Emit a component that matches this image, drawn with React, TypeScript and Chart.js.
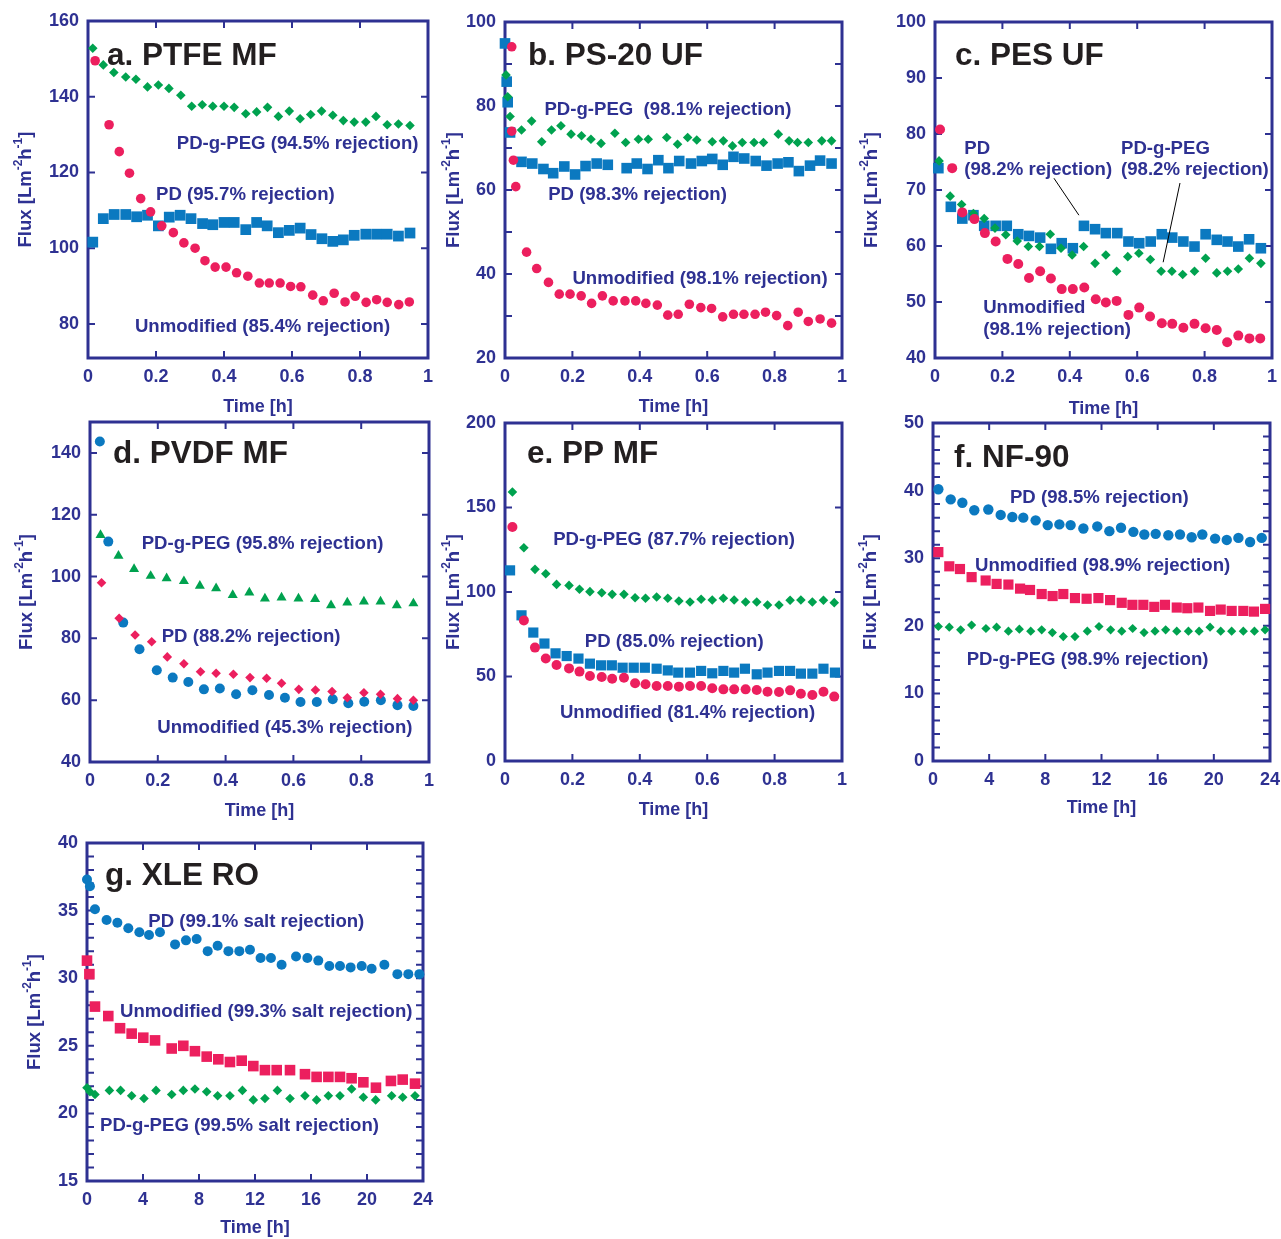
import React, { useEffect, useRef } from "react";
import { Chart, registerables } from "chart.js";
Chart.register(...registerables);

const NAVY = "#2e3192";
const INK = "#231f20";
const GREEN = "#00a24f";
const RED = "#ec1f5e";
const BLUE = "#0b79c0";
const FONT = "'Liberation Sans', Arial, Helvetica, sans-serif";

// ---------- tick values ----------
const fracTicks = [0, 0.2, 0.4, 0.6, 0.8, 1];
const hourTicks = [0, 4, 8, 12, 16, 20, 24];
const aYTicks = [80, 100, 120, 140, 160];
const bYTicks = [20, 40, 60, 80, 100];
const bYMinor = [30, 50, 70, 90];
const cYTicks = [40, 50, 60, 70, 80, 90, 100];
const dYTicks = [40, 60, 80, 100, 120, 140];
const eYTicks = [0, 50, 100, 150, 200];
const fYTicks = [0, 10, 20, 30, 40, 50];
const fYMinor = [2, 4, 6, 8, 12, 14, 16, 18, 22, 24, 26, 28, 32, 34, 36, 38, 42, 44, 46, 48];
const gYTicks = [15, 20, 25, 30, 35, 40];
const gYMinor = [16, 17, 18, 19, 21, 22, 23, 24, 26, 27, 28, 29, 31, 32, 33, 34, 36, 37, 38, 39];

// ---------- a. PTFE MF ----------
const aPeg = [[0.014,152.8],[0.045,148.4],[0.076,146.4],[0.111,145.2],[0.141,144.6],[0.175,142.6],[0.207,143.1],[0.238,142.2],[0.273,140.4],[0.305,137.5],[0.336,137.9],[0.367,137.5],[0.4,137.5],[0.43,137.2],[0.464,135.5],[0.496,136.0],[0.528,137.2],[0.56,134.8],[0.592,136.2],[0.624,134.2],[0.655,135.3],[0.687,136.2],[0.72,135.1],[0.751,133.7],[0.783,133.3],[0.817,133.3],[0.847,134.8],[0.88,132.6],[0.913,132.8],[0.947,132.4]];
const aUnmod = [[0.021,149.5],[0.062,132.6],[0.092,125.5],[0.122,119.8],[0.155,113.1],[0.184,109.6],[0.217,105.9],[0.251,104.1],[0.282,101.4],[0.315,100.0],[0.344,96.7],[0.374,95.0],[0.406,95.0],[0.437,93.5],[0.47,92.6],[0.504,90.8],[0.533,90.8],[0.565,90.8],[0.596,89.9],[0.626,89.8],[0.661,87.6],[0.692,86.1],[0.724,88.1],[0.756,85.8],[0.786,87.3],[0.818,85.7],[0.849,86.4],[0.88,85.7],[0.914,85.1],[0.945,85.8]];
const aPd = [[0.014,101.6],[0.045,107.8],[0.077,108.9],[0.111,108.9],[0.143,108.3],[0.175,108.7],[0.207,105.9],[0.239,108.2],[0.271,108.7],[0.303,107.8],[0.337,106.5],[0.367,106.2],[0.4,106.8],[0.43,106.8],[0.464,104.9],[0.496,106.8],[0.527,105.9],[0.56,104.1],[0.592,104.7],[0.624,105.3],[0.656,103.6],[0.688,102.5],[0.72,101.8],[0.751,102.2],[0.783,103.4],[0.817,103.7],[0.849,103.7],[0.88,103.7],[0.913,103.2],[0.947,104.0]];

// ---------- b. PS-20 UF ----------
const bPd = [[0.0,94.9],[0.005,85.8],[0.008,80.9],[0.015,73.7],[0.049,66.7],[0.081,66.3],[0.114,65.0],[0.143,64.0],[0.176,65.6],[0.208,63.7],[0.239,65.7],[0.272,66.3],[0.305,66.0],[0.361,65.2],[0.391,66.3],[0.423,65.0],[0.455,67.1],[0.485,65.2],[0.517,66.9],[0.552,66.3],[0.584,66.9],[0.615,67.4],[0.646,66.0],[0.678,67.9],[0.71,67.5],[0.744,66.9],[0.776,65.8],[0.809,66.3],[0.841,66.6],[0.872,64.5],[0.905,65.8],[0.935,67.0],[0.969,66.3]];
const bPeg = [[0.003,87.4],[0.008,82.2],[0.015,77.5],[0.049,74.3],[0.079,76.4],[0.109,71.5],[0.138,74.3],[0.166,75.3],[0.196,73.3],[0.227,72.9],[0.255,72.1],[0.285,71.1],[0.326,73.5],[0.358,71.3],[0.396,72.1],[0.425,72.1],[0.48,72.5],[0.512,70.9],[0.542,72.5],[0.569,71.9],[0.615,71.5],[0.648,71.7],[0.675,70.5],[0.704,71.3],[0.739,71.3],[0.767,71.3],[0.811,73.3],[0.843,71.7],[0.868,71.3],[0.9,71.3],[0.94,71.7],[0.969,71.7]];
const bUnmod = [[0.02,94.1],[0.02,74.0],[0.025,67.1],[0.032,60.8],[0.064,45.2],[0.094,41.3],[0.129,38.0],[0.161,35.2],[0.193,35.2],[0.226,34.8],[0.257,33.0],[0.289,34.8],[0.321,33.6],[0.356,33.6],[0.388,33.6],[0.418,33.0],[0.452,32.6],[0.483,30.2],[0.514,30.4],[0.547,32.8],[0.581,32.0],[0.613,31.8],[0.646,29.8],[0.678,30.4],[0.709,30.4],[0.742,30.4],[0.773,30.9],[0.806,30.1],[0.839,27.7],[0.87,30.9],[0.9,28.7],[0.935,29.3],[0.969,28.3]];

// ---------- c. PES UF ----------
const cPd = [[0.01,73.9],[0.047,67.0],[0.081,64.9],[0.114,65.5],[0.146,63.6],[0.18,63.6],[0.213,63.6],[0.247,62.1],[0.279,61.8],[0.312,61.5],[0.344,59.5],[0.376,60.5],[0.409,59.6],[0.442,63.6],[0.475,63.0],[0.507,62.3],[0.541,62.3],[0.574,60.8],[0.606,60.5],[0.64,60.8],[0.673,62.1],[0.704,61.5],[0.737,60.8],[0.77,59.9],[0.803,62.1],[0.836,61.1],[0.868,60.8],[0.9,59.9],[0.932,61.2],[0.967,59.6]];
const cPeg = [[0.012,75.2],[0.045,68.9],[0.079,67.4],[0.114,65.8],[0.146,64.9],[0.178,63.2],[0.21,62.0],[0.244,60.9],[0.277,59.9],[0.31,59.9],[0.342,62.1],[0.374,59.6],[0.407,58.4],[0.441,59.9],[0.475,56.9],[0.507,58.4],[0.539,55.5],[0.572,58.1],[0.605,58.7],[0.639,57.6],[0.671,55.5],[0.703,55.5],[0.735,54.9],[0.77,55.5],[0.803,57.8],[0.836,55.2],[0.868,55.5],[0.9,55.9],[0.933,57.8],[0.967,56.9]];
const cUnmod = [[0.015,80.8],[0.051,73.9],[0.081,66.0],[0.117,64.8],[0.148,62.3],[0.18,60.8],[0.215,57.7],[0.247,56.8],[0.279,54.3],[0.312,55.5],[0.344,54.2],[0.376,52.3],[0.409,52.3],[0.443,52.6],[0.477,50.5],[0.507,49.9],[0.539,50.2],[0.574,47.7],[0.606,49.0],[0.638,47.4],[0.673,46.2],[0.704,46.1],[0.737,45.4],[0.77,46.1],[0.803,45.3],[0.836,45.0],[0.867,42.8],[0.9,44.0],[0.933,43.5],[0.965,43.5]];

// ---------- d. PVDF MF ----------
const dUnmod = [[0.029,143.7],[0.054,111.3],[0.098,85.1],[0.146,76.5],[0.197,69.7],[0.244,67.3],[0.29,65.9],[0.336,63.5],[0.383,63.8],[0.431,61.9],[0.479,63.2],[0.528,61.7],[0.575,60.8],[0.621,59.4],[0.669,59.4],[0.716,60.3],[0.762,59.0],[0.809,59.5],[0.858,60.0],[0.907,58.4],[0.954,58.1]];
const dPeg = [[0.031,113.4],[0.084,106.7],[0.13,102.4],[0.179,100.2],[0.226,99.4],[0.277,98.5],[0.324,97.0],[0.372,96.2],[0.421,94.0],[0.47,94.8],[0.516,92.9],[0.565,93.2],[0.615,92.9],[0.664,92.7],[0.711,90.7],[0.759,91.6],[0.808,91.9],[0.857,91.9],[0.905,90.7],[0.954,91.3]];
const dPd = [[0.034,98.0],[0.086,86.5],[0.133,81.1],[0.182,78.9],[0.228,74.0],[0.277,71.8],[0.326,69.2],[0.372,68.7],[0.423,68.4],[0.472,67.3],[0.521,67.1],[0.565,65.5],[0.616,63.5],[0.665,63.3],[0.714,62.8],[0.759,60.8],[0.808,62.4],[0.857,61.9],[0.907,60.5],[0.954,60.0]];

// ---------- e. PP MF ----------
const ePeg = [[0.022,159.2],[0.056,126.2],[0.089,113.4],[0.121,110.8],[0.153,104.5],[0.19,103.9],[0.221,101.6],[0.252,100.2],[0.287,99.6],[0.318,98.6],[0.353,98.6],[0.386,96.6],[0.417,96.3],[0.45,97.0],[0.483,96.3],[0.516,94.7],[0.549,94.1],[0.582,95.7],[0.615,95.3],[0.648,96.3],[0.68,95.3],[0.714,94.1],[0.747,94.1],[0.779,92.3],[0.813,92.3],[0.846,95.1],[0.878,95.3],[0.912,94.1],[0.945,95.1],[0.977,93.7]];
const eUnmod = [[0.022,138.5],[0.056,83.2],[0.089,67.1],[0.121,60.6],[0.153,56.8],[0.19,54.8],[0.221,52.9],[0.252,50.3],[0.287,49.7],[0.318,48.7],[0.353,49.3],[0.386,46.0],[0.417,45.4],[0.45,44.4],[0.483,44.4],[0.516,44.0],[0.549,44.4],[0.582,44.4],[0.615,43.0],[0.648,42.4],[0.68,42.4],[0.714,42.4],[0.747,42.0],[0.779,41.0],[0.813,40.8],[0.846,41.8],[0.878,39.8],[0.912,39.1],[0.945,41.0],[0.977,38.1]];
const ePd = [[0.015,112.8],[0.049,86.2],[0.084,76.0],[0.117,69.5],[0.15,63.7],[0.183,62.1],[0.218,60.6],[0.252,57.6],[0.285,56.6],[0.317,56.6],[0.349,55.2],[0.382,55.2],[0.415,55.2],[0.45,54.6],[0.483,53.6],[0.514,52.3],[0.549,52.3],[0.582,53.3],[0.615,51.9],[0.648,53.3],[0.68,52.3],[0.712,54.6],[0.747,51.3],[0.779,52.3],[0.813,53.3],[0.846,53.3],[0.878,51.7],[0.912,51.7],[0.945,54.6],[0.979,52.3]];

// ---------- f. NF-90 ----------
const fPd = [[0.38,40.2],[1.26,38.7],[2.09,38.2],[2.94,37.1],[3.94,37.2],[4.82,36.4],[5.65,36.1],[6.43,36.0],[7.31,35.6],[8.17,34.9],[9.0,35.0],[9.8,34.9],[10.71,34.4],[11.7,34.7],[12.56,34.0],[13.39,34.5],[14.27,33.9],[15.05,33.5],[15.86,33.6],[16.76,33.4],[17.59,33.5],[18.42,33.1],[19.18,33.5],[20.09,32.9],[20.92,32.7],[21.75,33.0],[22.58,32.4],[23.41,33.0]];
const fUnmod = [[0.38,30.9],[1.16,28.8],[1.92,28.4],[2.75,27.2],[3.75,26.7],[4.53,26.2],[5.37,26.1],[6.2,25.5],[6.91,25.3],[7.74,24.7],[8.52,24.4],[9.28,24.7],[10.11,24.1],[10.94,24.0],[11.78,24.1],[12.61,23.8],[13.44,23.4],[14.2,23.1],[14.98,23.1],[15.76,22.8],[16.52,23.1],[17.36,22.7],[18.11,22.6],[18.9,22.7],[19.73,22.2],[20.49,22.4],[21.27,22.2],[22.1,22.2],[22.86,22.1],[23.65,22.5]];
const fPeg = [[0.38,19.9],[1.16,19.8],[1.97,19.4],[2.75,20.1],[3.77,19.6],[4.53,19.8],[5.37,19.2],[6.15,19.5],[6.96,19.2],[7.74,19.4],[8.5,19.0],[9.28,18.4],[10.11,18.4],[10.99,19.2],[11.82,19.9],[12.65,19.4],[13.44,19.2],[14.22,19.6],[15.03,19.0],[15.81,19.2],[16.57,19.4],[17.36,19.2],[18.19,19.2],[18.95,19.2],[19.73,19.8],[20.49,19.2],[21.27,19.2],[22.1,19.2],[22.89,19.2],[23.65,19.4]];

// ---------- g. XLE RO ----------
const gPd = [[0,37.3],[0.21,36.8],[0.57,35.1],[1.4,34.3],[2.17,34.1],[2.95,33.7],[3.74,33.4],[4.43,33.2],[5.21,33.4],[6.29,32.5],[7.07,32.8],[7.83,32.9],[8.62,32.0],[9.33,32.4],[10.1,32.0],[10.88,32.0],[11.64,32.1],[12.4,31.5],[13.14,31.5],[13.9,31.0],[14.93,31.6],[15.74,31.5],[16.52,31.3],[17.31,30.9],[18.07,30.9],[18.83,30.8],[19.62,30.9],[20.33,30.7],[21.24,31.0],[22.17,30.3],[22.95,30.3],[23.74,30.3]];
const gUnmod = [[0,31.3],[0.17,30.3],[0.57,27.9],[1.52,27.2],[2.36,26.3],[3.19,25.9],[4.02,25.6],[4.86,25.4],[6.05,24.8],[6.88,25.0],[7.71,24.6],[8.55,24.2],[9.38,24.0],[10.21,23.8],[11.05,23.9],[11.88,23.5],[12.71,23.2],[13.55,23.2],[14.5,23.2],[15.57,22.9],[16.4,22.7],[17.24,22.7],[18.07,22.7],[18.9,22.6],[19.74,22.3],[20.64,21.9],[21.71,22.4],[22.55,22.5],[23.43,22.2]];
const gPeg = [[0,21.9],[0.21,21.6],[0.57,21.4],[1.6,21.7],[2.4,21.7],[3.19,21.3],[4.07,21.1],[4.93,21.7],[6.05,21.4],[6.88,21.7],[7.71,21.8],[8.55,21.6],[9.33,21.3],[10.21,21.3],[11.1,21.7],[11.88,21.0],[12.71,21.1],[13.6,21.7],[14.5,21.1],[15.57,21.3],[16.4,21.0],[17.24,21.3],[18.07,21.3],[18.9,21.8],[19.74,21.2],[20.62,21.0],[21.76,21.3],[22.55,21.2],[23.43,21.3]];

// ---------- layout ----------
const L = 86, T = 20, R = 28, B = 62;

type Series = { data: number[][]; color: string; style: string; r: number };
type Note = { text: string; x: number; y: number };
type Seg = { x1: number; y1: number; x2: number; y2: number };
type Panel = {
  left: number; top: number; right: number; bottom: number;
  xMin: number; xMax: number; yMin: number; yMax: number;
  xTicks: number[]; yTicks: number[]; yMinor: number[];
  title: string; titleDx: number; titleBase: number;
  yTitleOffset: number; xTitleGap: number;
  series: Series[]; notes: Note[]; segs: Seg[];
};

const panels: Panel[] = [
  {
    left: 88, top: 21, right: 428, bottom: 358, xMin: 0, xMax: 1, yMin: 71, yMax: 160,
    xTicks: fracTicks, yTicks: aYTicks, yMinor: [],
    title: "a. PTFE MF", titleDx: 19, titleBase: 44, yTitleOffset: 63.5, xTitleGap: 49,
    series: [
      { data: aUnmod, color: RED, style: "circle", r: 4.8 },
      { data: aPeg, color: GREEN, style: "rectRot", r: 4.8 },
      { data: aPd, color: BLUE, style: "rect", r: 7.6 },
    ],
    notes: [
      { text: "PD-g-PEG (94.5% rejection)", x: 0.261, y: 127.6 },
      { text: "PD (95.7% rejection)", x: 0.2, y: 114.0 },
      { text: "Unmodified (85.4% rejection)", x: 0.138, y: 79.2 },
    ],
    segs: [],
  },
  {
    left: 505, top: 22, right: 842, bottom: 358, xMin: 0, xMax: 1, yMin: 20, yMax: 100,
    xTicks: fracTicks, yTicks: bYTicks, yMinor: bYMinor,
    title: "b. PS-20 UF", titleDx: 23, titleBase: 43, yTitleOffset: 53, xTitleGap: 49,
    series: [
      { data: bUnmod, color: RED, style: "circle", r: 4.8 },
      { data: bPeg, color: GREEN, style: "rectRot", r: 4.8 },
      { data: bPd, color: BLUE, style: "rect", r: 7.5 },
    ],
    notes: [
      { text: "PD-g-PEG  (98.1% rejection)", x: 0.117, y: 79.0 },
      { text: "PD (98.3% rejection)", x: 0.128, y: 58.8 },
      { text: "Unmodified (98.1% rejection)", x: 0.2, y: 38.8 },
    ],
    segs: [],
  },
  {
    left: 935, top: 22, right: 1272, bottom: 358, xMin: 0, xMax: 1, yMin: 40, yMax: 100,
    xTicks: fracTicks, yTicks: cYTicks, yMinor: [],
    title: "c. PES UF", titleDx: 20, titleBase: 43, yTitleOffset: 65, xTitleGap: 51,
    series: [
      { data: cUnmod, color: RED, style: "circle", r: 5 },
      { data: cPeg, color: GREEN, style: "rectRot", r: 4.8 },
      { data: cPd, color: BLUE, style: "rect", r: 7.5 },
    ],
    notes: [
      { text: "PD", x: 0.087, y: 77.4 },
      { text: "(98.2% rejection)", x: 0.087, y: 73.6 },
      { text: "PD-g-PEG", x: 0.552, y: 77.4 },
      { text: "(98.2% rejection)", x: 0.552, y: 73.6 },
      { text: "Unmodified", x: 0.143, y: 49.0 },
      { text: "(98.1% rejection)", x: 0.143, y: 45.0 },
    ],
    segs: [
      { x1: 0.353, y1: 72.1, x2: 0.427, y2: 65.5 },
      { x1: 0.727, y1: 71.25, x2: 0.677, y2: 57.1 },
    ],
  },
  {
    left: 90, top: 422, right: 429, bottom: 762, xMin: 0, xMax: 1, yMin: 40, yMax: 150,
    xTicks: fracTicks, yTicks: dYTicks, yMinor: [],
    title: "d. PVDF MF", titleDx: 23, titleBase: 41, yTitleOffset: 65, xTitleGap: 49,
    series: [
      { data: dPd, color: RED, style: "rectRot", r: 4.8 },
      { data: dUnmod, color: BLUE, style: "circle", r: 5 },
      { data: dPeg, color: GREEN, style: "triangle", r: 5.8 },
    ],
    notes: [
      { text: "PD-g-PEG (95.8% rejection)", x: 0.1525, y: 110.6 },
      { text: "PD (88.2% rejection)", x: 0.2115, y: 80.5 },
      { text: "Unmodified (45.3% rejection)", x: 0.1985, y: 51.1 },
    ],
    segs: [],
  },
  {
    left: 505, top: 423, right: 842, bottom: 761, xMin: 0, xMax: 1, yMin: 0, yMax: 200,
    xTicks: fracTicks, yTicks: eYTicks, yMinor: [],
    title: "e. PP MF", titleDx: 22, titleBase: 40, yTitleOffset: 53, xTitleGap: 49,
    series: [
      { data: eUnmod, color: RED, style: "circle", r: 5 },
      { data: ePeg, color: GREEN, style: "rectRot", r: 4.8 },
      { data: ePd, color: BLUE, style: "rect", r: 7.2 },
    ],
    notes: [
      { text: "PD-g-PEG (87.7% rejection)", x: 0.143, y: 130.6 },
      { text: "PD (85.0% rejection)", x: 0.237, y: 70.4 },
      { text: "Unmodified (81.4% rejection)", x: 0.163, y: 28.6 },
    ],
    segs: [],
  },
  {
    left: 933, top: 423, right: 1270, bottom: 761, xMin: 0, xMax: 24, yMin: 0, yMax: 50,
    xTicks: hourTicks, yTicks: fYTicks, yMinor: fYMinor,
    title: "f. NF-90", titleDx: 21, titleBase: 44, yTitleOffset: 64, xTitleGap: 47,
    series: [
      { data: fPd, color: BLUE, style: "circle", r: 5.2 },
      { data: fUnmod, color: RED, style: "rect", r: 7.2 },
      { data: fPeg, color: GREEN, style: "rectRot", r: 4.6 },
    ],
    notes: [
      { text: "PD (98.5% rejection)", x: 5.48, y: 38.9 },
      { text: "Unmodified (98.9% rejection)", x: 2.99, y: 28.9 },
      { text: "PD-g-PEG (98.9% rejection)", x: 2.4, y: 14.9 },
    ],
    segs: [],
  },
  {
    left: 87, top: 843, right: 423, bottom: 1181, xMin: 0, xMax: 24, yMin: 15, yMax: 40,
    xTicks: hourTicks, yTicks: gYTicks, yMinor: gYMinor,
    title: "g. XLE RO", titleDx: 18, titleBase: 42, yTitleOffset: 54, xTitleGap: 47,
    series: [
      { data: gPd, color: BLUE, style: "circle", r: 5 },
      { data: gUnmod, color: RED, style: "rect", r: 7.5 },
      { data: gPeg, color: GREEN, style: "rectRot", r: 4.8 },
    ],
    notes: [
      { text: "PD (99.1% salt rejection)", x: 4.38, y: 34.2 },
      { text: "Unmodified (99.3% salt rejection)", x: 2.36, y: 27.5 },
      { text: "PD-g-PEG (99.5% salt rejection)", x: 0.93, y: 19.1 },
    ],
    segs: [],
  },
];

const fmt = (v: number) => String(Math.round(v * 100) / 100);

function PanelChart({ p }: { p: Panel }) {
  const ref = useRef<HTMLCanvasElement | null>(null);
  const w = p.right - p.left + L + R;
  const h = p.bottom - p.top + T + B;

  useEffect(() => {
    const canvas = ref.current;
    if (!canvas) return;
    const deco = {
      id: "deco",
      beforeDatasetsDraw(chart: any) {
        const { ctx, chartArea: a, scales } = chart;
        const xs = scales.x, ys = scales.y;
        const tl = 7;
        ctx.save();
        ctx.strokeStyle = NAVY;
        ctx.lineWidth = 2;
        ctx.beginPath();
        p.xTicks.forEach((v) => {
          if (v <= p.xMin || v >= p.xMax) return;
          const px = xs.getPixelForValue(v);
          ctx.moveTo(px, a.bottom); ctx.lineTo(px, a.bottom - tl);
          ctx.moveTo(px, a.top); ctx.lineTo(px, a.top + tl);
        });
        [...p.yTicks, ...p.yMinor].forEach((v) => {
          if (v <= p.yMin || v >= p.yMax) return;
          const py = ys.getPixelForValue(v);
          ctx.moveTo(a.left, py); ctx.lineTo(a.left + tl, py);
          ctx.moveTo(a.right, py); ctx.lineTo(a.right - tl, py);
        });
        ctx.stroke();
        ctx.lineWidth = 3;
        ctx.strokeRect(a.left, a.top, a.right - a.left, a.bottom - a.top);
        ctx.restore();
      },
      afterDraw(chart: any) {
        const { ctx, chartArea: a, scales } = chart;
        const xs = scales.x, ys = scales.y;
        ctx.save();
        // panel title
        ctx.fillStyle = INK;
        ctx.font = `bold 31.5px ${FONT}`;
        ctx.textAlign = "left";
        ctx.textBaseline = "alphabetic";
        ctx.fillText(p.title, a.left + p.titleDx, a.top + p.titleBase);
        // notes
        ctx.fillStyle = NAVY;
        ctx.font = `bold 18.6px ${FONT}`;
        ctx.textBaseline = "middle";
        p.notes.forEach((n) => {
          ctx.fillText(n.text, xs.getPixelForValue(n.x), ys.getPixelForValue(n.y));
        });
        // leader lines
        ctx.strokeStyle = "#000";
        ctx.lineWidth = 1;
        p.segs.forEach((s) => {
          ctx.beginPath();
          ctx.moveTo(xs.getPixelForValue(s.x1), ys.getPixelForValue(s.y1));
          ctx.lineTo(xs.getPixelForValue(s.x2), ys.getPixelForValue(s.y2));
          ctx.stroke();
        });
        // y axis title with superscripts
        const bx = a.left - p.yTitleOffset + 6.6;
        const cy = (a.top + a.bottom) / 2;
        ctx.translate(bx, cy);
        ctx.rotate(-Math.PI / 2);
        const big = `bold 18.5px ${FONT}`;
        const small = `bold 12px ${FONT}`;
        const parts: [string, string, number][] = [
          ["Flux [Lm", big, 0], ["-2", small, -9], ["h", big, 0], ["-1", small, -9], ["]", big, 0],
        ];
        let total = 0;
        parts.forEach(([t, f]) => { ctx.font = f; total += ctx.measureText(t).width; });
        let x = -total / 2;
        ctx.textBaseline = "alphabetic";
        ctx.textAlign = "left";
        ctx.fillStyle = NAVY;
        parts.forEach(([t, f, dy]) => {
          ctx.font = f;
          ctx.fillText(t, x, dy);
          x += ctx.measureText(t).width;
        });
        ctx.restore();
      },
    };

    const tickFont = { family: FONT, size: 18, weight: "bold" as const };
    const chart = new Chart(canvas, {
      type: "scatter",
      data: {
        datasets: p.series.map((s) => ({
          data: s.data.map(([x, y]) => ({ x, y })),
          pointStyle: s.style as any,
          pointRadius: s.r,
          pointHoverRadius: s.r,
          pointBackgroundColor: s.color,
          backgroundColor: s.color,
          pointBorderWidth: 0,
          borderWidth: 0,
          clip: false as any,
        })),
      },
      options: {
        animation: false,
        responsive: false,
        maintainAspectRatio: false,
        events: [],
        layout: { padding: { top: T, right: R, bottom: 0, left: 0 } },
        plugins: { legend: { display: false }, tooltip: { enabled: false } },
        scales: {
          x: {
            type: "linear",
            position: "bottom",
            min: p.xMin,
            max: p.xMax,
            grid: { display: false, drawTicks: false, tickLength: 0 },
            border: { display: false },
            ticks: {
              color: NAVY, font: tickFont, padding: 8, maxRotation: 0, minRotation: 0,
              autoSkip: false, callback: (v: any) => fmt(Number(v)),
            },
            afterBuildTicks: (s: any) => { s.ticks = p.xTicks.map((v) => ({ value: v })); },
            afterFit: (s: any) => { s.height = B; },
            title: {
              display: true, text: "Time [h]", color: NAVY, font: tickFont,
              padding: { top: 0, bottom: B - p.xTitleGap - 10.8 },
            },
          },
          y: {
            type: "linear",
            position: "left",
            min: p.yMin,
            max: p.yMax,
            grid: { display: false, drawTicks: false, tickLength: 0 },
            border: { display: false },
            ticks: {
              color: NAVY, font: tickFont, padding: 9, autoSkip: false,
              callback: (v: any) => fmt(Number(v)),
            },
            afterBuildTicks: (s: any) => { s.ticks = p.yTicks.map((v) => ({ value: v })); },
            afterFit: (s: any) => { s.width = L; },
          },
        },
      } as any,
      plugins: [deco],
    });
    return () => chart.destroy();
  }, [p]);

  return (
    <canvas
      ref={ref}
      width={w}
      height={h}
      style={{ position: "absolute", left: p.left - L, top: p.top - T, width: w, height: h }}
    />
  );
}

export default function App() {
  return (
    <div
      style={{
        position: "absolute", left: 0, top: 0, width: 1281, height: 1239,
        overflow: "hidden", background: "#ffffff",
      }}
    >
      {panels.map((p) => (
        <PanelChart key={p.title} p={p} />
      ))}
    </div>
  );
}
